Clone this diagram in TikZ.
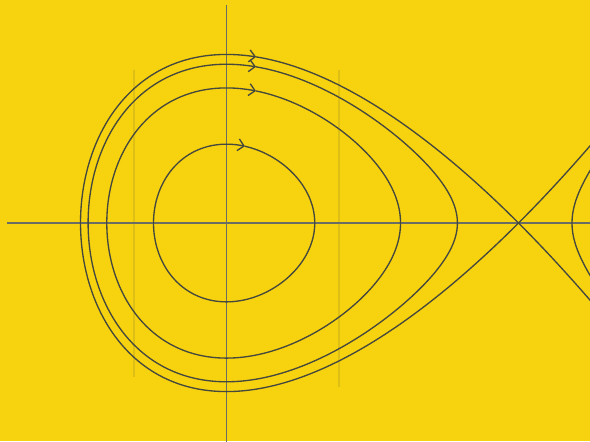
\documentclass[tikz,border=0pt]{standalone}
\usepackage{tikz}
\usepackage{xcolor}
\usetikzlibrary{arrows.meta}
\definecolor{Sun}{HTML}{F7D20F}
\definecolor{Ink}{HTML}{45483C}

\begin{document}
\begin{tikzpicture}[x=2.92cm,y=2.92cm,line width=0.38pt,
  orbit/.style={Ink,smooth},
  tip/.style={-{Straight Barb[length=0.6mm,width=1.2mm]}}]
  \fill[Sun] (-2.265cm,-2.18cm) rectangle (3.635cm,2.23cm);
  \useasboundingbox (-2.265cm,-2.18cm) rectangle (3.635cm,2.23cm);
  \clip (-2.265cm,-2.18cm) rectangle (3.635cm,2.23cm);
  \draw[Ink!14!Sun] (-0.317,0.524) -- (-0.317,-0.527);
  \draw[Ink!14!Sun] (0.385,0.524) -- (0.385,-0.562);
  \draw[Ink!80] (-0.752,0) -- (1.3,0);
  \draw[Ink!80] (0,0.747) -- (0,-0.8);
  % closed orbits: a < b turning points, c third root
  \foreach \a/\b/\c/\t in {-0.25/0.30218/1.44782/97.7,-0.41/0.596/1.314/90.9,-0.474/0.7908/1.1832/84.8} {
    \draw[orbit,tip] plot[domain=0:\t,samples=60,variable=\s]
      ({(\a+\b)/2-(\b-(\a))/2*cos(\s)},{(\b-(\a))/2*sin(\s)*sqrt(2*(\c-((\a+\b)/2-(\b-(\a))/2*cos(\s)))/3)});
    \draw[orbit] plot[domain=\t:360,samples=150,variable=\s]
      ({(\a+\b)/2-(\b-(\a))/2*cos(\s)},{(\b-(\a))/2*sin(\s)*sqrt(2*(\c-((\a+\b)/2-(\b-(\a))/2*cos(\s)))/3)});
  }
  % separatrix through the saddle
  \draw[orbit,tip] plot[domain=-102:53.2,samples=160,variable=\s]
    ({1-1.5*cos(\s)},{1.5*cos(\s)*sqrt(2)*sin(\s/2)});
  \draw[orbit] plot[domain=53.2:102,samples=50,variable=\s]
    ({1-1.5*cos(\s)},{1.5*cos(\s)*sqrt(2)*sin(\s/2)});
  \draw[orbit] plot[domain=-0.3:0.3,samples=40,variable=\s]
    ({1.1832+\s*\s},{\s*sqrt(2*(1.1832+\s*\s+0.474)*(1.1832+\s*\s-0.7908)/3)});
\end{tikzpicture}
\end{document}
